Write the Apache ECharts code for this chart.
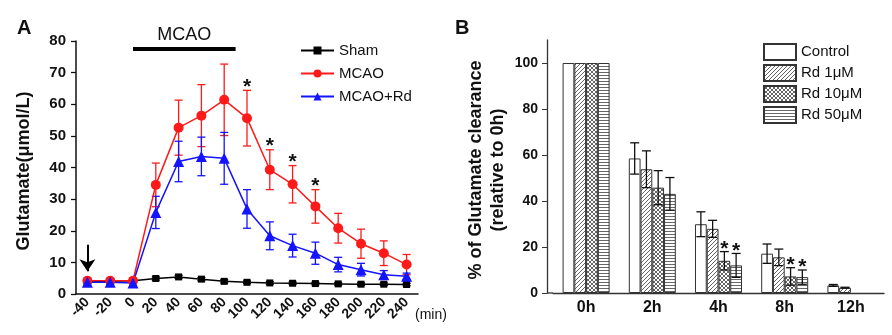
<!DOCTYPE html>
<html>
<head>
<meta charset="utf-8">
<script src="https://cdn.jsdelivr.net/npm/echarts@6/dist/echarts.min.js"></script>
<style>
  html, body { margin: 0; padding: 0; background: #fff; }
  #chart { width: 892px; height: 335px; }
</style>
</head>
<body>
<div id="chart"></div>
<script>
// ---- panel A : glutamate (umol/L) vs time (min)
const minutes = [-40, -20, 0, 20, 40, 60, 80, 100, 120, 140, 160, 180, 200, 220, 240];
const shamMean = [4.0, 4.0, 4.2, 4.9, 5.4, 4.7, 4.0, 3.7, 3.5, 3.4, 3.3, 3.2, 3.1, 3.1, 3.0];
const shamSd = [0.5, 0.5, 0.5, 0.5, 0.5, 0.5, 0.5, 0.4, 0.4, 0.4, 0.4, 0.4, 0.4, 0.4, 0.4];
const mcaoMean = [4.2, 4.2, 4.2, 34.5, 52.6, 56.4, 61.4, 55.6, 39.3, 34.7, 27.7, 20.8, 15.9, 12.9, 9.3];
const mcaoSd = [0.8, 0.7, 0.8, 6.9, 8.7, 9.8, 11.3, 8.8, 6.3, 5.9, 5.3, 4.7, 4.6, 3.9, 3.2];
const rdMean = [3.7, 3.7, 3.5, 25.8, 41.9, 43.5, 42.9, 26.9, 18.4, 15.3, 12.9, 9.3, 7.7, 6.1, 5.6];
const rdSd = [0.6, 0.6, 0.8, 5.1, 6.4, 6.1, 8.2, 6.1, 4.4, 3.6, 3.5, 2.3, 2.0, 1.3, 1.0];
const mcaoSig = [0, 0, 0, 0, 0, 0, 0, 1, 1, 1, 1, 0, 0, 0, 0];
const mcaoStart = 0, mcaoEnd = 90; // occlusion period (min)

// ---- panel B : % of glutamate clearance
const hours = ['0h', '2h', '4h', '8h', '12h'];
const groupNames = ['Control', 'Rd 1μM', 'Rd 10μM', 'Rd 50μM'];
const controlVal = [100, 58.5, 29.9, 17.1, 3.3];
const controlSd = [0, 6.8, 5.4, 4.2, 0.4];
const rd1Val = [100, 53.8, 27.9, 15.5, 2.3];
const rd1Sd = [0, 8.0, 3.7, 3.6, 0.2];
const rd10Val = [100, 45.8, 14.0, 7.2, null];
const rd10Sd = [0, 7.4, 4.0, 3.8, 0];
const rd50Val = [100, 43.1, 12.0, 6.9, null];
const rd50Sd = [0, 7.1, 5.2, 3.1, 0];
const rd10Sig = [0, 0, 1, 1, 0];
const rd50Sig = [0, 0, 1, 1, 0];
const yTicksB = [0, 20, 40, 60, 80, 100];

const FONT = 'Liberation Sans, Arial, sans-serif';
const GAP_B = 0.29;

// fill patterns for the bars
function pattern(size, draw) {
  const c = document.createElement('canvas');
  c.width = c.height = size;
  const g = c.getContext('2d');
  g.fillStyle = '#fff';
  g.fillRect(0, 0, size, size);
  g.strokeStyle = '#666';
  g.lineWidth = 1;
  g.beginPath();
  draw(g, size);
  g.stroke();
  return { image: c, repeat: 'repeat' };
}
const diagFill = pattern(4, (g, s) => {
  g.moveTo(-1, s + 1); g.lineTo(s + 1, -1);
  g.moveTo(-1, 1); g.lineTo(1, -1);
  g.moveTo(s - 1, s + 1); g.lineTo(s + 1, s - 1);
});
const crossFill = pattern(4, (g, s) => {
  g.moveTo(-1, s + 1); g.lineTo(s + 1, -1);
  g.moveTo(-1, -1); g.lineTo(s + 1, s + 1);
});
const hlineFill = pattern(3, (g, s) => {
  g.moveTo(0, 0.5); g.lineTo(s, 0.5);
});

// error bars (+ asterisk) drawn with a custom series
function errorRender(color, slot, slots, cap, sigGap) {
  return function (params, api) {
    const i = api.value(0), mean = api.value(1), sd = api.value(2), sig = api.value(3);
    if (isNaN(mean)) return;
    let dx = 0;
    if (slots) {
      const band = api.size([1, 0])[0];
      const bw = band * (1 - GAP_B) / slots;
      dx = (slot - (slots - 1) / 2) * bw;
    }
    const hi = api.coord([i, mean + sd]);
    const lo = api.coord([i, mean - sd]);
    const x = hi[0] + dx;
    const st = { stroke: color, lineWidth: 1.3 };
    const children = [];
    if (sd > 0) {
      children.push({ type: 'line', shape: { x1: x, y1: hi[1], x2: x, y2: lo[1] }, style: st });
      children.push({ type: 'line', shape: { x1: x - cap, y1: hi[1], x2: x + cap, y2: hi[1] }, style: st });
      children.push({ type: 'line', shape: { x1: x - cap, y1: lo[1], x2: x + cap, y2: lo[1] }, style: st });
    }
    if (sig) {
      children.push({
        type: 'text',
        style: { text: '*', x: x, y: hi[1] - sigGap - 6, align: 'center', verticalAlign: 'top', font: 'bold 21px ' + FONT, fill: '#111' }
      });
    }
    return { type: 'group', children: children };
  };
}

function errData(means, sds, sigs) {
  return means.map((m, i) => [i, m == null ? NaN : m, sds[i], sigs ? sigs[i] : 0]);
}

const lineSeries = [
  { name: 'Sham', mean: shamMean, sd: shamSd, color: '#000', symbol: 'rect', size: 7 },
  { name: 'MCAO', mean: mcaoMean, sd: mcaoSd, color: '#ff1a1a', symbol: 'circle', size: 10, sig: mcaoSig },
  { name: 'MCAO+Rd', mean: rdMean, sd: rdSd, color: '#1414ff', symbol: 'triangle', size: 11 }
];
const barSeries = [
  { name: groupNames[0], val: controlVal, sd: controlSd, fill: '#fff' },
  { name: groupNames[1], val: rd1Val, sd: rd1Sd, fill: diagFill },
  { name: groupNames[2], val: rd10Val, sd: rd10Sd, fill: crossFill, sig: rd10Sig },
  { name: groupNames[3], val: rd50Val, sd: rd50Sd, fill: hlineFill, sig: rd50Sig }
];

const series = [];
lineSeries.forEach((s) => {
  series.push({
    type: 'custom', xAxisIndex: 0, yAxisIndex: 0, silent: true,
    renderItem: errorRender(s.color, 0, 0, 4, 8),
    encode: { x: 0, y: 1 },
    data: errData(s.mean, s.sd, s.sig)
  });
  series.push({
    name: s.name, type: 'line', xAxisIndex: 0, yAxisIndex: 0,
    data: s.mean, symbol: s.symbol, symbolSize: s.size, showAllSymbol: true,
    color: s.color, lineStyle: { width: 1.5, color: s.color },
    itemStyle: { color: s.color }
  });
});
// arrow marking drug administration at -40 min
series[1].markLine = {
  silent: true, symbol: ['none', 'arrow'], symbolSize: 12,
  label: { show: false },
  lineStyle: { color: '#000', width: 2, type: 'solid' },
  data: [[{ coord: [0, 15.6] }, { coord: [0, 7.2] }]]
};

barSeries.forEach((s) => {
  series.push({
    name: s.name, type: 'bar', xAxisIndex: 1, yAxisIndex: 1,
    data: s.val, barGap: '0%', barCategoryGap: (GAP_B * 100) + '%',
    itemStyle: { color: s.fill, borderColor: '#333', borderWidth: 1 }
  });
});
barSeries.forEach((s, k) => {
  series.push({
    type: 'custom', xAxisIndex: 1, yAxisIndex: 1, silent: true, z: 5,
    renderItem: errorRender('#111', k, 4, 4.5, 7),
    encode: { x: 0, y: 1 },
    data: errData(s.val, s.sd, s.sig)
  });
});

const chart = echarts.init(document.getElementById('chart'));
chart.setOption({
  animation: false,
  backgroundColor: '#fff',
  textStyle: { fontFamily: FONT },
  grid: [
    { left: 76, top: 41, width: 342, height: 253 },
    { left: 553, top: 40, width: 331, height: 253 }
  ],
  legend: [
    {
      data: ['Sham', 'MCAO', 'MCAO+Rd'], orient: 'vertical', left: 295, top: 38,
      itemWidth: 33, itemHeight: 10, itemGap: 8,
      textStyle: { fontSize: 15, color: '#111', fontFamily: FONT }
    },
    {
      data: groupNames, orient: 'vertical', left: 758, top: 38, icon: 'rect',
      itemWidth: 32, itemHeight: 16, itemGap: 3,
      textStyle: { fontSize: 15, color: '#111', fontFamily: FONT }
    }
  ],
  xAxis: [
    {
      gridIndex: 0, type: 'category', data: minutes, boundaryGap: true,
      name: '(min)', nameLocation: 'end', nameGap: -3,
      nameTextStyle: { fontSize: 14, color: '#111', verticalAlign: 'top', padding: [14, 0, 0, 0] },
      axisLine: { lineStyle: { color: '#111', width: 1.5 } },
      axisTick: { alignWithLabel: true, length: 5, lineStyle: { width: 1.3 } },
      axisLabel: { rotate: 45, margin: 6, fontSize: 14, fontWeight: 'bold', color: '#111', interval: 0 },
      splitLine: { show: false }
    },
    {
      gridIndex: 1, type: 'category', data: hours,
      axisLine: { lineStyle: { color: '#333', width: 1.3 } },
      axisTick: { length: 5 },
      axisLabel: { margin: 7, fontSize: 16, fontWeight: 'bold', color: '#111' },
      splitLine: { show: false }
    }
  ],
  yAxis: [
    {
      gridIndex: 0, type: 'value', min: 0, max: 80, interval: 10,
      axisLine: { show: true, lineStyle: { color: '#111', width: 1.5 } },
      axisTick: { show: true, length: 5, lineStyle: { width: 1.3 } },
      axisLabel: { margin: 10, fontSize: 15, fontWeight: 'bold', color: '#111' },
      splitLine: { show: false }
    },
    {
      gridIndex: 1, type: 'value', min: 0, max: 110, interval: 20, offset: 6,
      axisLine: { show: true, lineStyle: { color: '#333', width: 1.3 } },
      axisTick: { show: true, length: 5, customValues: yTicksB },
      axisLabel: { margin: 9, fontSize: 14, fontWeight: 'bold', color: '#111', customValues: yTicksB },
      splitLine: { show: false }
    }
  ],
  series: series
});

// annotations placed from data coordinates
const px = (i, v) => chart.convertToPixel({ xAxisIndex: 0, yAxisIndex: 0 }, [i, v]);
const i0 = minutes.indexOf(0);
const step = px(i0 + 1, 0)[0] - px(i0, 0)[0];
const barY = px(i0, 77.5)[1];
const xStart = px(i0, 0)[0] + step * mcaoStart / 20;
const xEnd = px(i0, 0)[0] + step * mcaoEnd / 20;
const baseB = chart.convertToPixel({ yAxisIndex: 1 }, 0);

chart.setOption({
  graphic: [
    { type: 'text', left: 17, top: 18, style: { text: 'A', font: 'bold 20px ' + FONT, fill: '#111' } },
    { type: 'text', left: 455, top: 18, style: { text: 'B', font: 'bold 20px ' + FONT, fill: '#111' } },
    {
      type: 'text', x: 24, y: 171, rotation: Math.PI / 2,
      style: { text: 'Glutamate(μmol/L)', font: 'bold 18px ' + FONT, fill: '#111', align: 'center', verticalAlign: 'middle' }
    },
    {
      type: 'text', x: 476, y: 170, rotation: Math.PI / 2,
      style: { text: '% of Glutamate clearance', font: 'bold 18px ' + FONT, fill: '#111', align: 'center', verticalAlign: 'middle' }
    },
    {
      type: 'text', x: 498, y: 170, rotation: Math.PI / 2,
      style: { text: '(relative to 0h)', font: 'bold 18px ' + FONT, fill: '#111', align: 'center', verticalAlign: 'middle' }
    },
    {
      type: 'line', shape: { x1: xStart, y1: barY, x2: xEnd, y2: barY },
      style: { stroke: '#000', lineWidth: 4 }
    },
    {
      type: 'text', x: (xStart + xEnd) / 2, y: barY - 14,
      style: { text: 'MCAO', font: '18px ' + FONT, fill: '#111', align: 'center', verticalAlign: 'middle' }
    },
    {
      type: 'line', shape: { x1: 547, y1: baseB, x2: 553, y2: baseB },
      style: { stroke: '#333', lineWidth: 1.3 }
    }
  ]
});
</script>
</body>
</html>
